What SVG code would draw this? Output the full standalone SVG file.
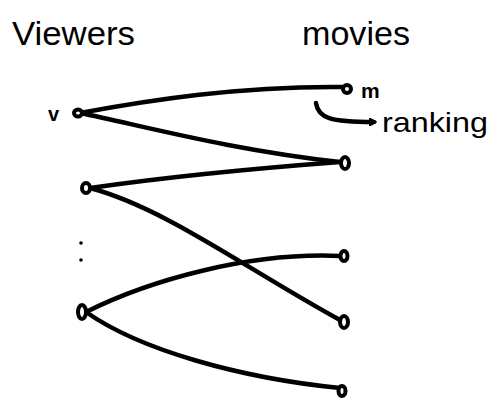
<svg xmlns="http://www.w3.org/2000/svg" width="492" height="403" viewBox="0 0 492 403">
<defs>
<style>
.lbl{font-family:"Liberation Sans",Arial,sans-serif;fill:#000}
.edge{fill:none;stroke:#000;stroke-width:4.5;stroke-linecap:round}
.node{fill:#fff;stroke:#000;stroke-width:4}
</style>
<marker id="ah" markerWidth="8" markerHeight="8" refX="5" refY="4" orient="auto" markerUnits="userSpaceOnUse">
<path d="M1,1 L6,4 L1,7" fill="none" stroke="#000" stroke-width="2.5" stroke-linecap="round"/>
</marker>
</defs>
<rect width="492" height="403" fill="#fff"/>
<text class="lbl" x="12" y="45" font-size="33" textLength="123" lengthAdjust="spacingAndGlyphs">Viewers</text>
<text class="lbl" x="302" y="45" font-size="33" textLength="108" lengthAdjust="spacingAndGlyphs">movies</text>
<g id="connectors">
<path class="edge" d="M80,113 C150,100 240,86 342,87"/>
<path class="edge" d="M80,113 C140,125 230,150 340,162"/>
<path class="edge" d="M90,188 C160,178 260,168 340,162"/>
<path class="edge" d="M90,188 C165,208 245,268 340,320"/>
<path class="edge" d="M86,312 C150,280 250,252 340,256"/>
<path class="edge" d="M86,312 C140,350 240,378 340,388"/>
<path class="edge" d="M316,103 C318,118 330,122 374,122" stroke-width="3" marker-end="url(#ah)"/>
</g>
<g id="v"><ellipse class="node" cx="78" cy="113" rx="4" ry="3.5"/><text class="lbl" x="48" y="121" font-size="20" font-weight="bold">v</text></g>
<g id="viewer2"><ellipse class="node" cx="86" cy="188" rx="4" ry="5"/></g>
<g id="dots"><circle cx="81" cy="243" r="1.8" fill="#000"/><circle cx="81" cy="260" r="1.8" fill="#000"/></g>
<g id="viewer3"><ellipse class="node" cx="82" cy="312" rx="4" ry="7"/></g>
<g id="m"><ellipse class="node" cx="347" cy="89" rx="4" ry="4"/><text class="lbl" x="361" y="98" font-size="21" font-weight="bold">m</text></g>
<g id="ranking"><text class="lbl" x="382" y="132" font-size="28" textLength="106" lengthAdjust="spacingAndGlyphs">ranking</text></g>
<g id="movie2"><ellipse class="node" cx="345" cy="163" rx="4" ry="6"/></g>
<g id="movie3"><ellipse class="node" cx="344" cy="256" rx="3.5" ry="5"/></g>
<g id="movie4"><ellipse class="node" cx="344" cy="322" rx="4" ry="6"/></g>
<g id="movie5"><ellipse class="node" cx="342" cy="391" rx="3.5" ry="5"/></g>
</svg>
